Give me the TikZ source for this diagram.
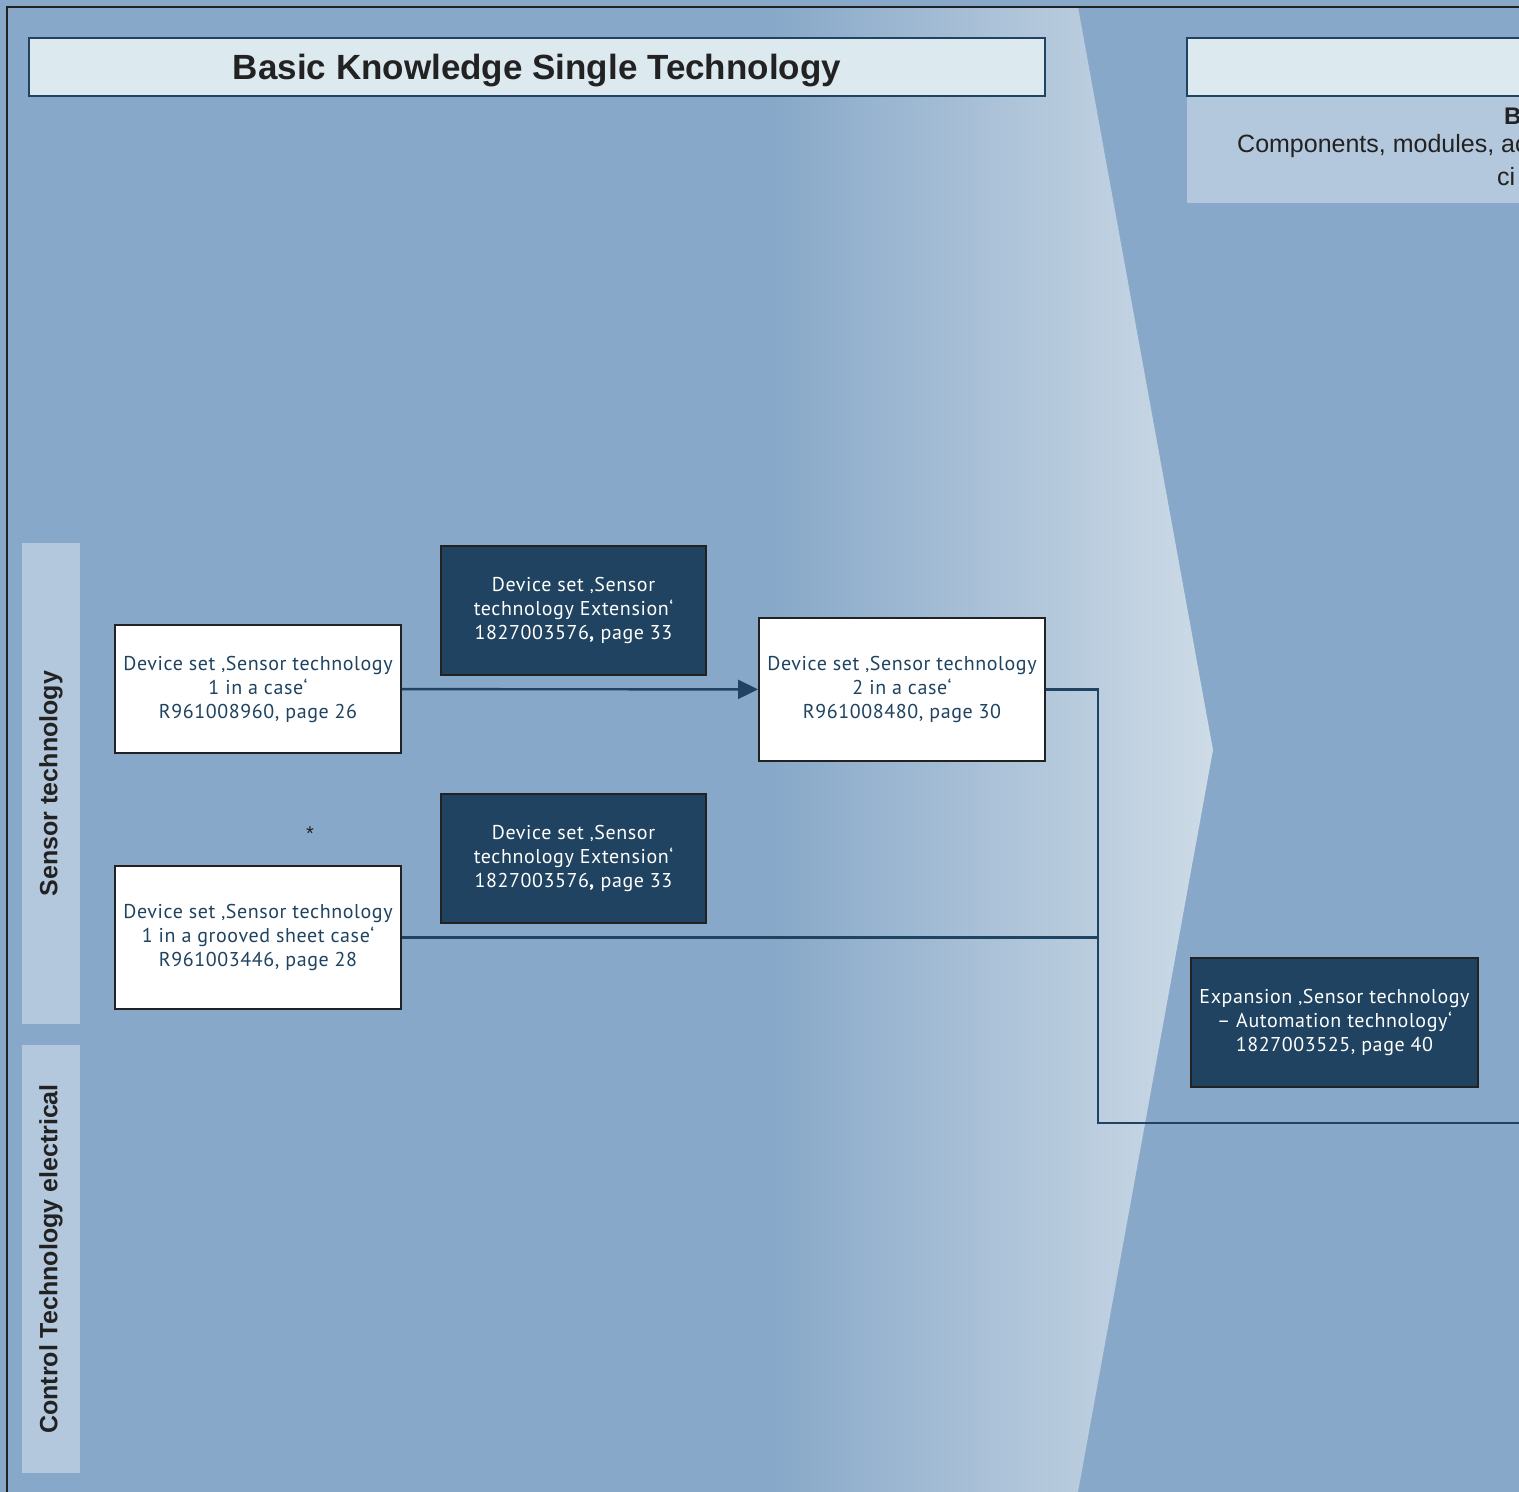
\documentclass[tikz,border=0pt]{standalone}
\usepackage{fontspec}
\setmainfont{Liberation Sans}
\newfontfamily\boxfont[LetterSpace=3]{PT Sans}
\usetikzlibrary{arrows.meta}
\definecolor{bgblue}{HTML}{87A8C8}
\definecolor{paleblue}{HTML}{B3C8DD}
\definecolor{glowblue}{HTML}{CEDBE7}
\definecolor{headfill}{HTML}{DCE9EF}
\definecolor{navy}{HTML}{1F4360}
\definecolor{inkgrey}{HTML}{222222}

\begin{document}
\begin{tikzpicture}[x=1pt,y=-1pt,
  headbox/.style={draw=navy,line width=2.5pt,fill=headfill,text=inkgrey,
    text height=33pt,font=\bfseries\fontsize{35}{40}\selectfont},
  sidebar/.style={fill=paleblue,rotate=90,minimum height=58pt,text=inkgrey,
    font=\bfseries\fontsize{25}{30}\selectfont},
  setbox/.style={draw=inkgrey,line width=2pt,fill=white,text=navy,
    minimum width=286pt,minimum height=143pt,align=center,
    font=\boxfont\fontsize{20}{24}\selectfont},
  extbox/.style={draw=inkgrey,line width=2pt,fill=navy,text=white,
    minimum width=265pt,minimum height=129pt,align=center,
    font=\boxfont\fontsize{20}{24}\selectfont},
  conn/.style={draw=navy,line width=2.4pt}]
\useasboundingbox (0,0) rectangle (1519,1492);
\clip (0,0) rectangle (1519,1492);

% background and the lighter arrow on the left
\fill[bgblue] (0,0) rectangle (1519,1492);
\shade[left color=bgblue,right color=glowblue]
  (770,7)--(1078,7)--(1213,750)--(1078,1492)--(770,1492)--cycle;
\draw[line width=2.5pt,inkgrey] (7,7) rectangle (1560,1540);

% headings
\node[headbox,minimum width=1016pt,minimum height=58pt] (basic) at (537,67)
  {Basic Knowledge Single Technology};
\fill[paleblue] (1187,96) rectangle (1560,203);
\draw[navy,line width=2.5pt,fill=headfill] (1187,38) rectangle (1560,96);
\node[anchor=west,inner sep=0pt,text=inkgrey,font=\bfseries\fontsize{24}{28}\selectfont]
  (bhead) at (1504,116) {B};
\node[anchor=west,inner sep=0pt,text=inkgrey,font=\fontsize{25}{30}\selectfont]
  (comp) at (1237,146) {Components, modules, ac};
\node[anchor=west,inner sep=0pt,text=inkgrey,font=\fontsize{25}{30}\selectfont]
  (circ) at (1497,177) {ci};

% row labels
\node[sidebar,minimum width=481pt] (sensor) at (51,783.5) {Sensor technology};
\node[sidebar,minimum width=428pt] (control) at (51,1259) {Control Technology electrical};

% device sets
\node[setbox,minimum height=128pt] (ds1) at (258,689)
  {Device set ‚Sensor technology\\1 in a case‘\\R961008960, page 26};
\node[setbox] (ds2) at (902,689.5)
  {Device set ‚Sensor technology\\2 in a case‘\\R961008480, page 30};
\node[setbox] (ds3) at (258,937.5)
  {Device set ‚Sensor technology\\1 in a grooved sheet case‘\\R961003446, page 28};
\node[font=\fontsize{20}{24}\selectfont,text=inkgrey] (star) at (310,834) {*};

% extensions
\node[extbox] (ext1) at (573.5,610.5)
  {Device set ‚Sensor\\technology Extension‘\\1827003576\textbf{,} page 33};
\node[extbox] (ext2) at (573.5,858.5)
  {Device set ‚Sensor\\technology Extension‘\\1827003576\textbf{,} page 33};
\node[extbox,minimum width=287pt] (expan) at (1334.5,1022.5)
  {Expansion ‚Sensor technology\\– Automation technology‘\\1827003525, page 40};

% connectors
\coordinate (join) at (1098,1123);
\coordinate (onward) at (1560,1123);
\draw[conn,-{Triangle[length=20pt,width=19pt]}] (ds1) -- (ds2);
\draw[conn] (ds2.east) -| (join) -- (onward);
\draw[conn] (ds3.east) -- (ds3.east -| join);
\end{tikzpicture}
\end{document}
